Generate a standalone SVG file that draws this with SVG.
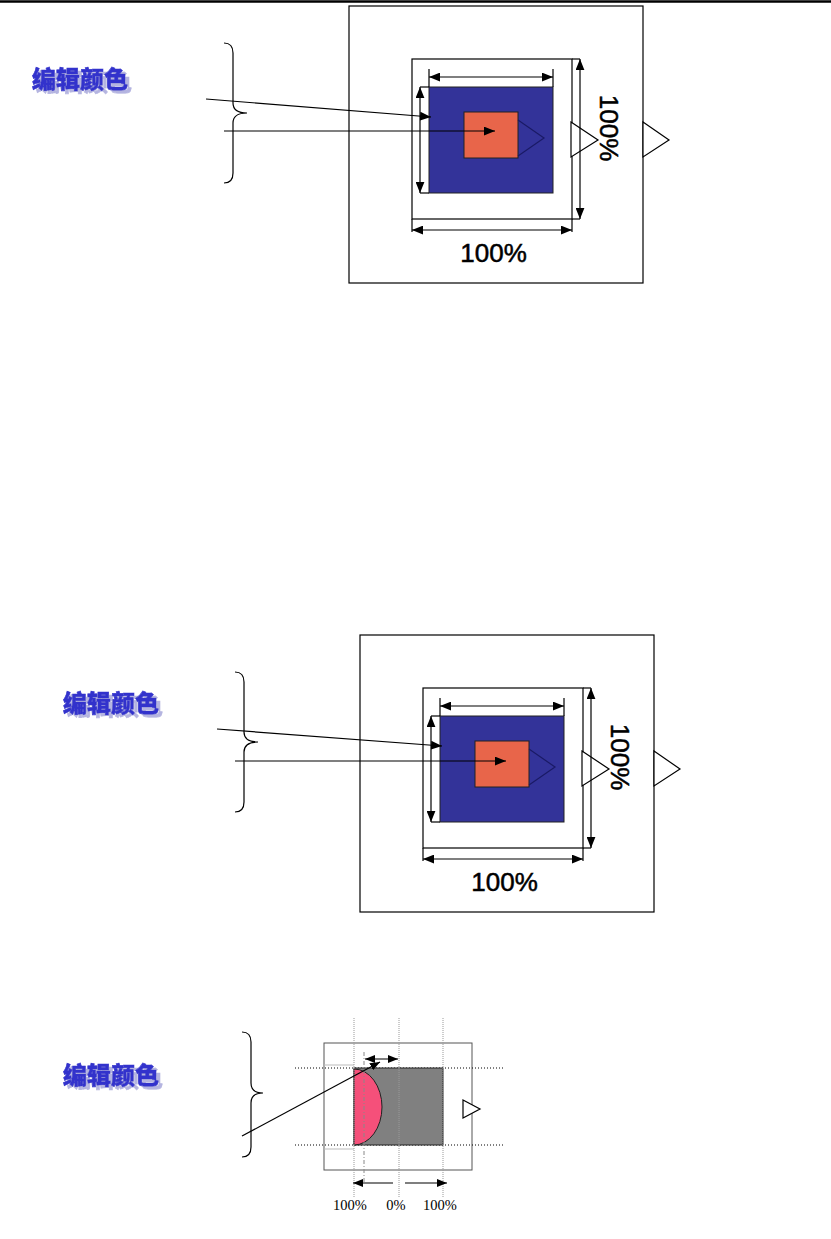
<svg xmlns="http://www.w3.org/2000/svg" width="831" height="1239" viewBox="0 0 831 1239">
<style>
.ln{fill:none;stroke:#000;stroke-width:1.2}
.box{fill:#fff;stroke:#000;stroke-width:1.2}
.blue{fill:#333399;stroke:#222;stroke-width:1}
.org{fill:#E8654A;stroke:#222;stroke-width:1}
.navy{fill:none;stroke:#1a1a66;stroke-width:1.2}
.tri{fill:#fff;stroke:#000;stroke-width:1.2}
.pct{font-family:"Liberation Sans",Arial,sans-serif;font-size:26px;fill:#000;stroke:#000;stroke-width:0.5}
.cn{font-family:"Noto Sans CJK SC",sans-serif;font-size:24px;font-weight:900;fill:#3333CC;stroke:#3333CC;stroke-width:0.6;filter:url(#shadow)}
.ser{font-family:"Liberation Serif","Times New Roman",serif;font-size:14.5px;fill:#000}
.dotv{fill:none;stroke:#999;stroke-width:1;stroke-dasharray:1,1}
.doth{fill:none;stroke:#000;stroke-width:1;stroke-dasharray:1,2}
</style>
<defs>
<filter id="shadow" x="-10%" y="-20%" width="130%" height="150%">
<feFlood flood-color="#B4B4E0" result="c"/>
<feComposite in="c" in2="SourceAlpha" operator="in" result="s"/>
<feOffset in="s" dx="4" dy="3" result="o"/>
<feMerge><feMergeNode in="o"/><feMergeNode in="SourceGraphic"/></feMerge>
</filter>
<marker id="ah" viewBox="0 0 10 8" markerWidth="11" markerHeight="9" refX="10" refY="4" orient="auto-start-reverse" markerUnits="userSpaceOnUse">
<path d="M0,0 L10,4 L0,8 z" fill="#000"/>
</marker>
<marker id="ahs" viewBox="0 0 10 8" markerWidth="10" markerHeight="8" refX="10" refY="4" orient="auto-start-reverse" markerUnits="userSpaceOnUse">
<path d="M0,0 L10,4 L0,8 z" fill="#000"/>
</marker>
</defs>
<rect width="831" height="1239" fill="#fff"/>
<line x1="0" y1="1.5" x2="831" y2="1.5" stroke="#000" stroke-width="2.6"/>

<!-- Panel 1 -->
<g id="label1">
<text class="cn" x="32" y="88">编辑颜色</text>
</g>
<g id="brace1"><path class="ln" d="M224,43 Q233,43 233,53 L233,103 Q233,113 247,113 Q233,113 233,123 L233,173 Q233,183 224,183"/></g>
<g id="panel1">
<rect class="box" x="349" y="6" width="294" height="277"/>
<rect class="box" x="412" y="59" width="160" height="160"/>
<line class="ln" x1="572" y1="59" x2="580" y2="59"/>
<line class="ln" x1="572" y1="219" x2="580" y2="219"/>
<rect class="blue" x="429" y="87" width="124" height="106"/>
<line class="ln" x1="420" y1="87" x2="429" y2="87"/>
<line class="ln" x1="420" y1="193" x2="429" y2="193"/>
<line class="ln" x1="429" y1="69" x2="429" y2="87"/>
<line class="ln" x1="553" y1="69" x2="553" y2="87"/>
<line class="ln" x1="412" y1="219" x2="412" y2="232"/>
<line class="ln" x1="572" y1="219" x2="572" y2="232"/>
<rect class="org" x="464" y="112" width="54" height="46"/>
<polyline class="navy" points="518,120 544,138 518,156"/>
<polygon class="tri" points="571,122 598,140 571,157"/>
<polygon class="tri" points="643,122 669,140 643,157"/>
<text class="pct" x="493.5" y="262" text-anchor="middle">100%</text>
<text class="pct" transform="translate(600,128) rotate(90)" text-anchor="middle">100%</text>
</g>
<g id="connectors1">
<line class="ln" x1="429" y1="77" x2="553" y2="77" marker-start="url(#ah)" marker-end="url(#ah)"/>
<line class="ln" x1="420" y1="87" x2="420" y2="193" marker-start="url(#ah)" marker-end="url(#ah)"/>
<line class="ln" x1="580" y1="59" x2="580" y2="219" marker-start="url(#ah)" marker-end="url(#ah)"/>
<line class="ln" x1="412" y1="230" x2="572" y2="230" marker-start="url(#ah)" marker-end="url(#ah)"/>
<line class="ln" x1="206" y1="99" x2="431" y2="117" marker-end="url(#ah)"/>
<line class="ln" x1="224" y1="131" x2="495" y2="131" marker-end="url(#ah)"/>
</g>

<!-- Panel 2 -->
<g id="label2">
<text class="cn" x="63" y="712">编辑颜色</text>
</g>
<g transform="translate(11,629)">
<g id="brace2"><path class="ln" d="M224,43 Q233,43 233,53 L233,103 Q233,113 247,113 Q233,113 233,123 L233,173 Q233,183 224,183"/></g>
<g id="panel2">
<rect class="box" x="349" y="6" width="294" height="277"/>
<rect class="box" x="412" y="59" width="160" height="160"/>
<line class="ln" x1="572" y1="59" x2="580" y2="59"/>
<line class="ln" x1="572" y1="219" x2="580" y2="219"/>
<rect class="blue" x="429" y="87" width="124" height="106"/>
<line class="ln" x1="420" y1="87" x2="429" y2="87"/>
<line class="ln" x1="420" y1="193" x2="429" y2="193"/>
<line class="ln" x1="429" y1="69" x2="429" y2="87"/>
<line class="ln" x1="553" y1="69" x2="553" y2="87"/>
<line class="ln" x1="412" y1="219" x2="412" y2="232"/>
<line class="ln" x1="572" y1="219" x2="572" y2="232"/>
<rect class="org" x="464" y="112" width="54" height="46"/>
<polyline class="navy" points="518,120 544,138 518,156"/>
<polygon class="tri" points="571,122 598,140 571,157"/>
<polygon class="tri" points="643,122 669,140 643,157"/>
<text class="pct" x="493.5" y="262" text-anchor="middle">100%</text>
<text class="pct" transform="translate(600,128) rotate(90)" text-anchor="middle">100%</text>
</g>
<g id="connectors2">
<line class="ln" x1="429" y1="77" x2="553" y2="77" marker-start="url(#ah)" marker-end="url(#ah)"/>
<line class="ln" x1="420" y1="87" x2="420" y2="193" marker-start="url(#ah)" marker-end="url(#ah)"/>
<line class="ln" x1="580" y1="59" x2="580" y2="219" marker-start="url(#ah)" marker-end="url(#ah)"/>
<line class="ln" x1="412" y1="230" x2="572" y2="230" marker-start="url(#ah)" marker-end="url(#ah)"/>
<line class="ln" x1="206" y1="100" x2="431" y2="117" marker-end="url(#ah)"/>
<line class="ln" x1="224" y1="132" x2="495" y2="132" marker-end="url(#ah)"/>
</g>
</g>

<!-- Panel 3 -->
<g id="label3">
<text class="cn" x="63" y="1084">编辑颜色</text>
</g>
<g id="brace3"><path class="ln" d="M242,1032 Q251,1032 251,1042 L251,1083 Q251,1093 263,1093 Q251,1093 251,1103 L251,1147 Q251,1157 242,1157"/></g>
<g id="panel3">
<rect x="324" y="1043" width="148" height="127" fill="none" stroke="#555" stroke-width="1"/>
<line x1="324" y1="1065" x2="354" y2="1065" stroke="#bbb" stroke-width="1"/>
<line x1="324" y1="1149" x2="354" y2="1149" stroke="#bbb" stroke-width="1"/>
<line class="doth" x1="295" y1="1068" x2="504" y2="1068"/>
<line class="doth" x1="295" y1="1145" x2="504" y2="1145"/>
<rect x="354" y="1068" width="89" height="77" fill="#808080" stroke="#222" stroke-width="1"/>
<path d="M354,1069 A28,38 0 0 1 354,1145 Z" fill="#F5507A" stroke="#222" stroke-width="1"/>
<line class="dotv" x1="354" y1="1018" x2="354" y2="1197"/>
<line class="dotv" x1="399" y1="1018" x2="399" y2="1197"/>
<line class="dotv" x1="443" y1="1018" x2="443" y2="1197"/>
<line x1="364" y1="1052" x2="364" y2="1182" stroke="#888" stroke-width="1" stroke-dasharray="4,2,1,2"/>
<polygon class="tri" points="463,1100 480,1109 463,1118"/>
<text class="ser" x="350" y="1210" text-anchor="middle">100%</text>
<text class="ser" x="396" y="1210" text-anchor="middle">0%</text>
<text class="ser" x="440" y="1210" text-anchor="middle">100%</text>
</g>
<g id="connectors3">
<line class="ln" x1="365" y1="1059" x2="398" y2="1059" stroke-width="1.4" marker-start="url(#ahs)" marker-end="url(#ahs)"/>
<line class="ln" x1="242" y1="1136" x2="380" y2="1062" stroke-width="1.6" marker-end="url(#ahs)"/>
<line class="ln" x1="393" y1="1183" x2="353" y2="1183" marker-end="url(#ahs)"/>
<line class="ln" x1="405" y1="1183" x2="447" y2="1183" marker-end="url(#ahs)"/>
</g>
</svg>
